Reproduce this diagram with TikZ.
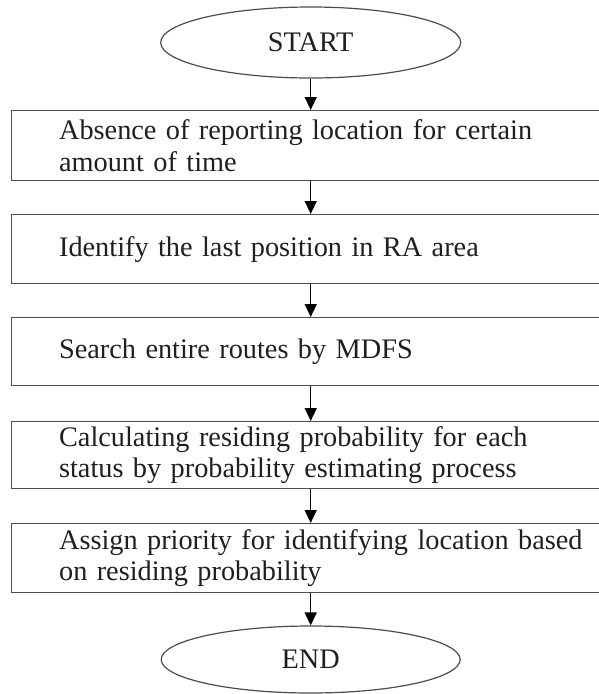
\documentclass[tikz,border=0pt]{standalone}
\usepackage{fontspec}
\setmainfont{Liberation Serif}
\usetikzlibrary{shapes.geometric,arrows.meta}
\begin{document}
\begin{tikzpicture}[x=1pt,y=-1pt,
  stepbox/.style={draw=black!70, line width=1.2pt, rectangle, anchor=north west,
    inner xsep=47.5pt, inner ysep=0pt, text width=540pt, align=left,
    text=black!88, font=\fontsize{28.3}{31.5}\selectfont},
  term/.style={draw=black!70, line width=1.2pt, ellipse, inner sep=0pt,
    text=black!88, font=\fontsize{28.3}{31.5}\selectfont},
  arr/.style={draw=black, line width=1.5pt, -{Triangle[length=13pt,width=12pt]}}]
\useasboundingbox (0,0) rectangle (598,694);
\node[term, minimum width=300pt, minimum height=71pt] (start) at (310.7,42.5) {START};
\node[stepbox, minimum height=70pt] (b1) at (11,110) {Absence of reporting location for certain\\amount of time};
\node[stepbox, minimum height=69pt] (b2) at (11,214) {\raisebox{-3pt}{Identify the last position in RA area}};
\node[stepbox, minimum height=68pt] (b3) at (11,317) {\raisebox{-3pt}{Search entire routes by MDFS}};
\node[stepbox, minimum height=67pt] (b4) at (11,421) {Calculating residing probability for each\\status by probability estimating process};
\node[stepbox, minimum height=69pt] (b5) at (11,523) {Assign priority for identifying location based\\on residing probability};
\node[term, minimum width=299pt, minimum height=67pt] (end) at (310.7,659.5) {END};
\draw[arr] (start.south) -- (start.south |- b1.north);
\draw[arr] (b1.south -| start.south) -- (start.south |- b2.north);
\draw[arr] (b2.south -| start.south) -- (start.south |- b3.north);
\draw[arr] (b3.south -| start.south) -- (start.south |- b4.north);
\draw[arr] (b4.south -| start.south) -- (start.south |- b5.north);
\draw[arr] (b5.south -| start.south) -- (end.north);
\end{tikzpicture}
\end{document}
